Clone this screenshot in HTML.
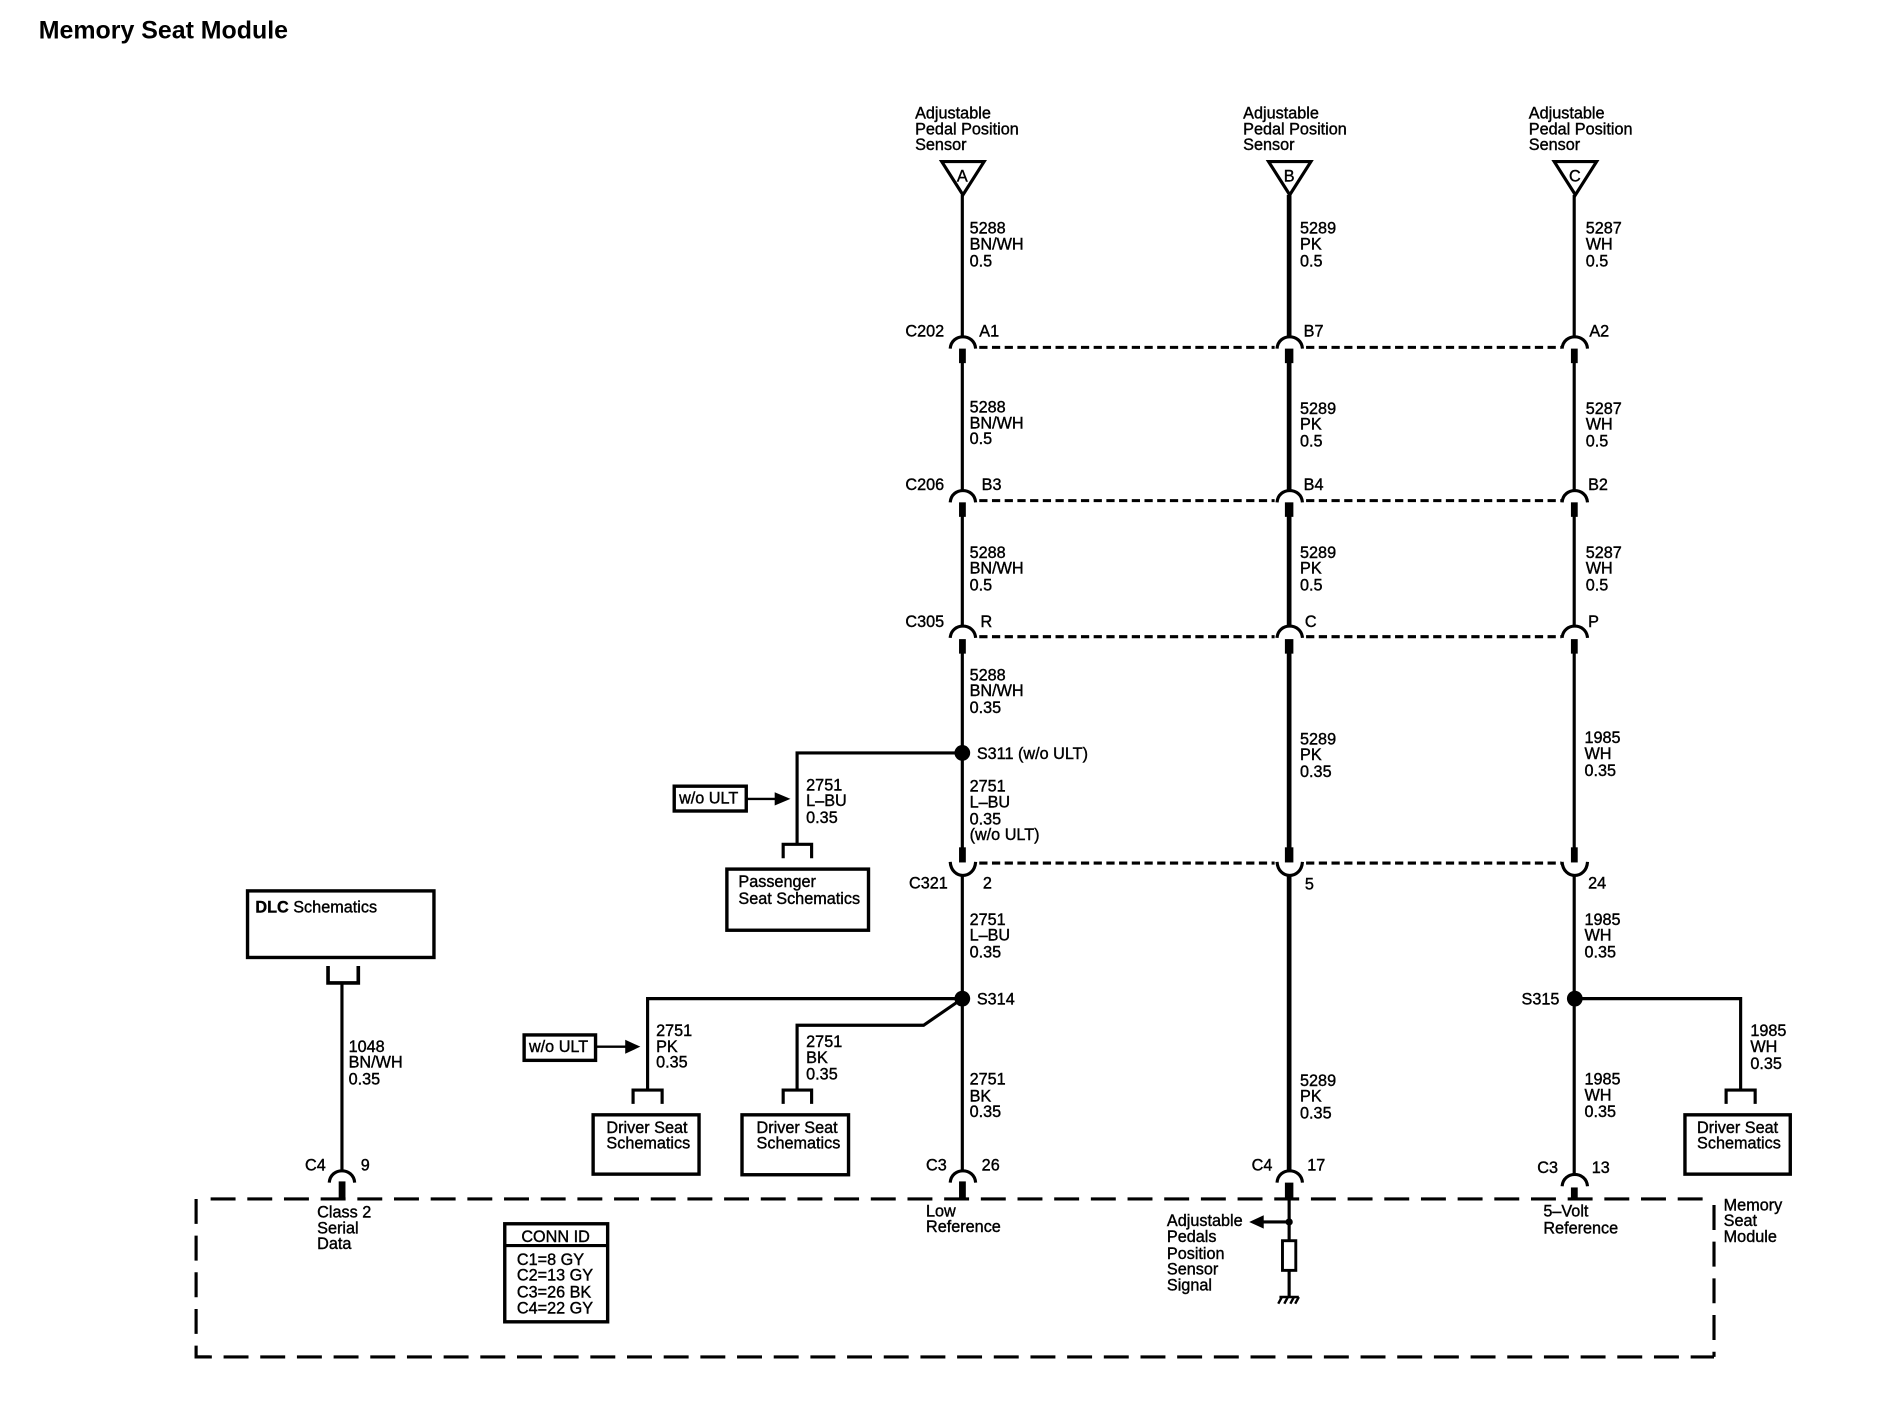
<!DOCTYPE html>
<html><head><meta charset="utf-8"><style>
html,body{margin:0;padding:0;background:#fff}
svg{display:block}
text{font-family:"Liberation Sans",sans-serif;font-size:13.4px;fill:#000;stroke:#000;stroke-width:.32}
.m{text-anchor:middle}
.w{fill:none;stroke:#000;stroke-width:2.6}
.k{fill:none;stroke:#000;stroke-width:3.9}
.d{fill:none;stroke:#000;stroke-width:2.5;stroke-dasharray:6.8 3.7}
.f{fill:none;stroke:#000;stroke-width:2.6;stroke-dasharray:20.6 9.7}
.b{fill:#fff;stroke:#000;stroke-width:2.8}
.a{fill:none;stroke:#000;stroke-width:2.6}
</style></head><body>
<svg xmlns="http://www.w3.org/2000/svg" width="1898" height="1408" viewBox="0 0 1568 1163.2">
<rect width="1568" height="1164" fill="#fff"/>
<text x="32" y="32" style="font-size:20.6px;font-weight:bold;stroke-width:0">Memory Seat Module</text>

<!-- Triangles -->
<path class="w" d="M778 133.5H813L795.5 161Z"/>
<path class="w" d="M1048 133.5H1083L1065.5 161Z"/>
<path class="w" d="M1284 133.5H1319L1301.5 161Z"/>
<text class="m" x="795" y="150">A</text><text class="m" x="1065" y="150">B</text><text class="m" x="1301" y="150">C</text>
<text x="756" y="98">Adjustable</text><text x="756" y="111">Pedal Position</text><text x="756" y="124">Sensor</text>
<text x="1027" y="98">Adjustable</text><text x="1027" y="111">Pedal Position</text><text x="1027" y="124">Sensor</text>
<text x="1263" y="98">Adjustable</text><text x="1263" y="111">Pedal Position</text><text x="1263" y="124">Sensor</text>

<!-- Wires -->
<path class="w" d="M795 161V279M795 299V406M795 426V518M795 532V702M795 724V968"/>
<path class="k" d="M1065 161V279M1065 299V406M1065 426V518M1065 532V702M1065 724V968"/>
<path class="w" d="M1300.5 161V279M1300.5 299V406M1300.5 426V518M1300.5 532V702M1300.5 724V970"/>
<path class="w" d="M282.5 813V968"/>

<!-- Dashed connector bars -->
<path class="d" d="M809 287H1053M1079 287H1290"/>
<path class="d" d="M809 413.6H1053M1079 413.6H1290"/>
<path class="d" d="M809 526H1053M1079 526H1290"/>
<path class="d" d="M809 713H1053M1079 713H1290"/>

<!-- Connector arcs and stubs (top row) -->
<path class="a" d="M785 288C786 275 805 275 806 288M1055 288C1056 275 1075 275 1076 288M1290.5 288C1291.5 275 1310.5 275 1311.5 288"/>
<path class="a" d="M785 415C786 402 805 402 806 415M1055 415C1056 402 1075 402 1076 415M1290.5 415C1291.5 402 1310.5 402 1311.5 415"/>
<path class="a" d="M785 527C786 514 805 514 806 527M1055 527C1056 514 1075 514 1076 527M1290.5 527C1291.5 514 1310.5 514 1311.5 527"/>
<path class="a" d="M785 712C786 727 805 727 806 712M1055 712C1056 727 1075 727 1076 712M1290.5 712C1291.5 727 1310.5 727 1311.5 712"/>
<g fill="#000">
<rect x="792.3" y="288" width="5.6" height="12"/><rect x="1061.5" y="288" width="7" height="12"/><rect x="1297.8" y="288" width="5.6" height="12"/>
<rect x="792.3" y="415" width="5.6" height="12"/><rect x="1061.5" y="415" width="7" height="12"/><rect x="1297.8" y="415" width="5.6" height="12"/>
<rect x="792.3" y="528" width="5.6" height="12"/><rect x="1061.5" y="528" width="7" height="12"/><rect x="1297.8" y="528" width="5.6" height="12"/>
<rect x="792.3" y="700" width="5.6" height="12.5"/><rect x="1061.5" y="700" width="7" height="12.5"/><rect x="1297.8" y="700" width="5.6" height="12.5"/>
<rect x="279.8" y="976" width="5.6" height="15"/><rect x="792.3" y="976" width="5.6" height="15"/><rect x="1061.5" y="977" width="7" height="14"/><rect x="1297.8" y="981" width="5.6" height="10"/>
</g>
<path class="a" d="M272 977C273 964 292 964 293 977M785 977C786 964 805 964 806 977M1055 977C1056 964 1075 964 1076 977M1290.5 980C1291.5 967 1310.5 967 1311.5 980"/>

<!-- Connector labels -->
<text x="748" y="278">C202</text><text x="809" y="278">A1</text><text x="1077" y="278">B7</text><text x="1313" y="278">A2</text>
<text x="748" y="405">C206</text><text x="811" y="405">B3</text><text x="1077" y="405">B4</text><text x="1312" y="405">B2</text>
<text x="748" y="518">C305</text><text x="810" y="518">R</text><text x="1078" y="518">C</text><text x="1312" y="518">P</text>
<text x="751" y="734">C321</text><text x="812" y="734">2</text><text x="1078" y="735">5</text><text x="1312" y="734">24</text>
<text x="252" y="967">C4</text><text x="298" y="967">9</text>
<text x="765" y="967">C3</text><text x="811" y="967">26</text>
<text x="1034" y="967">C4</text><text x="1080" y="967">17</text>
<text x="1270" y="969">C3</text><text x="1315" y="969">13</text>

<!-- Wire labels A -->
<text x="801" y="193">5288</text><text x="801" y="206">BN/WH</text><text x="801" y="220">0.5</text>
<text x="801" y="341">5288</text><text x="801" y="354">BN/WH</text><text x="801" y="367">0.5</text>
<text x="801" y="461">5288</text><text x="801" y="474">BN/WH</text><text x="801" y="488">0.5</text>
<text x="801" y="562">5288</text><text x="801" y="575">BN/WH</text><text x="801" y="589">0.35</text>
<text x="801" y="654">2751</text><text x="801" y="667">L–BU</text><text x="801" y="681">0.35</text><text x="801" y="694">(w/o ULT)</text>
<text x="801" y="764">2751</text><text x="801" y="777">L–BU</text><text x="801" y="791">0.35</text>
<text x="801" y="896">2751</text><text x="801" y="910">BK</text><text x="801" y="923">0.35</text>
<!-- Wire labels B -->
<text x="1074" y="193">5289</text><text x="1074" y="206">PK</text><text x="1074" y="220">0.5</text>
<text x="1074" y="342">5289</text><text x="1074" y="355">PK</text><text x="1074" y="369">0.5</text>
<text x="1074" y="461">5289</text><text x="1074" y="474">PK</text><text x="1074" y="488">0.5</text>
<text x="1074" y="615">5289</text><text x="1074" y="628">PK</text><text x="1074" y="642">0.35</text>
<text x="1074" y="897">5289</text><text x="1074" y="910">PK</text><text x="1074" y="924">0.35</text>
<!-- Wire labels C -->
<text x="1310" y="193">5287</text><text x="1310" y="206">WH</text><text x="1310" y="220">0.5</text>
<text x="1310" y="342">5287</text><text x="1310" y="355">WH</text><text x="1310" y="369">0.5</text>
<text x="1310" y="461">5287</text><text x="1310" y="474">WH</text><text x="1310" y="488">0.5</text>
<text x="1309" y="614">1985</text><text x="1309" y="627">WH</text><text x="1309" y="641">0.35</text>
<text x="1309" y="764">1985</text><text x="1309" y="777">WH</text><text x="1309" y="791">0.35</text>
<text x="1309" y="896">1985</text><text x="1309" y="909">WH</text><text x="1309" y="923">0.35</text>
<text x="1446" y="856">1985</text><text x="1446" y="869">WH</text><text x="1446" y="883">0.35</text>

<!-- S311 branch -->
<circle cx="795" cy="622" r="6.5" fill="#000"/>
<text x="807" y="627">S311 (w/o ULT)</text>
<path class="w" d="M795 622H658.5V697"/>
<path class="w" d="M647 709V697.5H670.5V709"/>
<text x="666" y="653">2751</text><text x="666" y="666">L–BU</text><text x="666" y="680">0.35</text>
<rect class="b" x="557" y="649.5" width="59.5" height="20.5"/>
<text x="561" y="664">w/o ULT</text>
<path class="a" style="stroke-width:2" d="M617 660H642"/><path fill="#000" d="M640 654.5L653 660L640 665.5Z"/>
<rect class="b" x="600.5" y="718" width="117" height="50.5"/>
<text x="610" y="733">Passenger</text><text x="610" y="747">Seat Schematics</text>

<!-- S314 branches -->
<circle cx="795" cy="825" r="6.5" fill="#000"/>
<text x="807" y="830">S314</text>
<path class="w" d="M795 825H535V900"/>
<path class="w" d="M795 825L763 847H658.5V900"/>
<path class="w" d="M523 912V900.5H547V912"/>
<path class="w" d="M647 912V900.5H670.5V912"/>
<text x="542" y="856">2751</text><text x="542" y="869">PK</text><text x="542" y="882">0.35</text>
<text x="666" y="865">2751</text><text x="666" y="878">BK</text><text x="666" y="892">0.35</text>
<rect class="b" x="433" y="855" width="59" height="21"/>
<text x="437" y="869">w/o ULT</text>
<path class="a" style="stroke-width:2" d="M493 864.7H518"/><path fill="#000" d="M516.5 859L529 864.7L516.5 870.5Z"/>
<rect class="b" x="490" y="921" width="87.5" height="49"/>
<text x="501" y="936">Driver Seat</text><text x="501" y="949">Schematics</text>
<rect class="b" x="613" y="921" width="88" height="49.5"/>
<text x="625" y="936">Driver Seat</text><text x="625" y="949">Schematics</text>

<!-- S315 branch -->
<circle cx="1301" cy="825" r="6.5" fill="#000"/>
<text x="1257" y="830">S315</text>
<path class="w" d="M1301 825H1438V900"/>
<path class="w" d="M1426 912V900.5H1450V912"/>
<rect class="b" x="1392" y="921" width="87" height="49"/>
<text x="1402" y="936">Driver Seat</text><text x="1402" y="949">Schematics</text>

<!-- DLC -->
<rect class="b" x="204.5" y="736" width="154" height="55"/>
<text x="211" y="754"><tspan style="font-weight:bold">DLC</tspan> Schematics</text>
<path class="k" style="stroke-width:3" d="M271 798V812H296V798"/>
<text x="288" y="869">1048</text><text x="288" y="882">BN/WH</text><text x="288" y="896">0.35</text>

<!-- Module frame -->
<path class="f" d="M174 990.5H1411"/>
<path class="f" d="M162 990.5V1121H175"/>
<path class="f" stroke-dashoffset="7.6" d="M162 1121H1416"/>
<path class="f" d="M1416 995.5V1121"/>
<text x="262" y="1006">Class 2</text><text x="262" y="1019">Serial</text><text x="262" y="1032">Data</text>
<text x="765" y="1005">Low</text><text x="765" y="1018">Reference</text>
<text x="1275" y="1005">5–Volt</text><text x="1275" y="1019">Reference</text>
<text x="1424" y="1000">Memory</text><text x="1424" y="1013">Seat</text><text x="1424" y="1026">Module</text>

<!-- CONN ID -->
<rect class="b" x="417" y="1011" width="85" height="81"/>
<path class="w" d="M417 1029H502"/>
<text class="m" x="459" y="1026">CONN ID</text>
<text x="427" y="1045">C1=8 GY</text><text x="427" y="1058">C2=13 GY</text><text x="427" y="1072">C3=26 BK</text><text x="427" y="1085">C4=22 GY</text>

<!-- Sensor internal -->
<path class="w" d="M1065 990V1024M1065 1050V1071"/>
<circle cx="1065" cy="1009.5" r="3" fill="#000"/>
<path class="w" d="M1065 1009.5H1042"/><path fill="#000" d="M1032 1009.5L1044 1004V1015Z"/>
<rect x="1059.5" y="1025" width="11" height="24.5" fill="#fff" stroke="#000" stroke-width="2.4"/>
<path class="w" style="stroke-width:2" d="M1057 1071.5H1073M1059 1071.5L1056 1077M1064 1071.5L1061 1077M1069 1071.5L1066 1077M1073 1071.5L1070 1077"/>
<text x="964" y="1013">Adjustable</text><text x="964" y="1026">Pedals</text><text x="964" y="1040">Position</text><text x="964" y="1053">Sensor</text><text x="964" y="1066">Signal</text>
</svg>
</body></html>
